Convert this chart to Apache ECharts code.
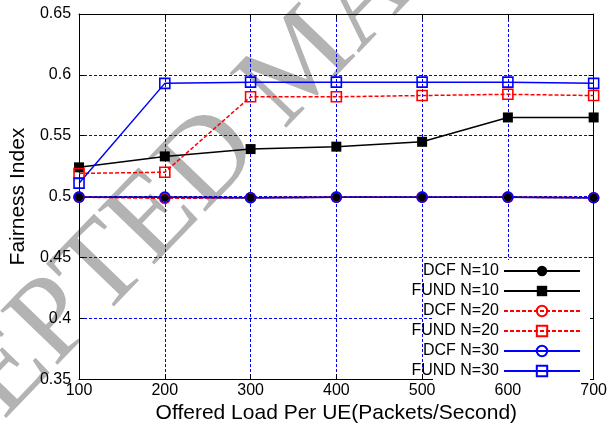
<!DOCTYPE html>
<html>
<head>
<meta charset="utf-8">
<script src="https://cdn.jsdelivr.net/npm/echarts@6/dist/echarts.min.js"></script>
<style>
  html, body { margin: 0; padding: 0; background: #fff; }
  #chart { width: 610px; height: 429px; }
</style>
</head>
<body>
<div id="chart"></div>
<script>
// Offered load per UE (packets/second)
const loads = [100, 200, 300, 400, 500, 600, 700];

// Fairness index per scheme and number of UEs
const dcfN10  = [0.4995, 0.4995, 0.4990, 0.4995, 0.4995, 0.4995, 0.4990];
const fundN10 = [0.524, 0.533, 0.539, 0.541, 0.545, 0.565, 0.565];
const dcfN20  = [0.4995, 0.4985, 0.4990, 0.4995, 0.4995, 0.4995, 0.4990];
const fundN20 = [0.519, 0.520, 0.582, 0.582, 0.583, 0.584, 0.583];
const dcfN30  = [0.4995, 0.4995, 0.4990, 0.4995, 0.4995, 0.4995, 0.4990];
const fundN30 = [0.511, 0.593, 0.594, 0.594, 0.594, 0.594, 0.593];

const yTicks = [0.35, 0.4, 0.45, 0.5, 0.55, 0.6, 0.65];

const FONT = '"Liberation Sans", Arial, Helvetica, sans-serif';
const BLUE = '#0000ff';
const RED = '#ff0000';
const BLACK = '#000000';

function pairs(ys) { return loads.map((x, i) => [x, ys[i]]); }

function lineSeries(name, ys, color, symbol, filled, dashed, size) {
  return {
    name: name,
    type: 'line',
    data: pairs(ys),
    symbol: symbol,
    symbolSize: size,
    showSymbol: true,
    animation: false,
    lineStyle: { color: color, width: 1.5, type: dashed ? [4, 2] : 'solid' },
    itemStyle: filled
      ? { color: color, borderColor: color, borderWidth: 0 }
      : { color: 'rgba(0,0,0,0)', borderColor: color, borderWidth: 1.6 },
    emphasis: { disabled: true }
  };
}

const chart = echarts.init(document.getElementById('chart'), null, { renderer: 'canvas' });

const gridLeft = 76, gridRight = 15, gridTop = 14, gridBottom = 43;

chart.setOption({
  animation: false,
  backgroundColor: '#ffffff',
  textStyle: { fontFamily: FONT },
  grid: { left: gridLeft, right: gridRight, top: gridTop, bottom: gridBottom, containLabel: false },
  graphic: [
    {
      type: 'text',
      id: 'stamp',
      z: -10,
      silent: true,
      x: 304, y: 64,
      rotation: Math.PI * 46 / 180,
      style: {
        text: 'ACCEPTED MANUSCRIPT',
        font: '120px "Liberation Serif", "Times New Roman", serif',
        fill: '#b3b3b3',
        align: 'center',
        verticalAlign: 'middle'
      }
    },
    {
      type: 'rect',
      id: 'legendBox',
      z: 1,
      silent: true,
      shape: { x: 433, y: 260, width: 157, height: 120 },
      style: { fill: '#ffffff' }
    }
  ],
  xAxis: [
    {
      type: 'value',
      min: 100, max: 700, interval: 100,
      name: 'Offered Load Per UE(Packets/Second)',
      nameLocation: 'middle',
      nameGap: 19,
      nameTextStyle: { fontSize: 21, color: BLACK, fontFamily: FONT },
      axisLine: { show: true, lineStyle: { color: BLACK, width: 1 } },
      axisTick: { show: true, inside: true, length: 5, lineStyle: { color: BLACK } },
      axisLabel: { fontSize: 16, color: BLACK, margin: 3, fontFamily: FONT },
      splitLine: { show: true, lineStyle: { color: BLUE, width: 1, type: [3, 2] } }
    },
    {
      type: 'value',
      position: 'top',
      min: 100, max: 700, interval: 100,
      axisLine: { show: true, lineStyle: { color: BLACK, width: 1 } },
      axisTick: { show: true, inside: true, length: 5, lineStyle: { color: BLACK } },
      axisLabel: { show: false },
      splitLine: { show: false }
    }
  ],
  yAxis: [
    {
      type: 'value',
      min: 0.35, max: 0.65, interval: 0.05,
      name: 'Fairness Index',
      nameLocation: 'middle',
      nameGap: 46,
      nameTextStyle: { fontSize: 21, color: BLACK, fontFamily: FONT },
      axisLine: { show: true, lineStyle: { color: BLACK, width: 1 } },
      axisTick: { show: true, inside: true, length: 5, lineStyle: { color: BLACK } },
      axisLabel: {
        fontSize: 16, color: BLACK, margin: 8, fontFamily: FONT,
        formatter: v => String(+v.toFixed(2))
      },
      splitLine: { show: true, lineStyle: { color: BLUE, width: 1, type: [3, 2] } }
    },
    {
      type: 'value',
      position: 'right',
      min: 0.35, max: 0.65, interval: 0.05,
      axisLine: { show: true, lineStyle: { color: BLACK, width: 1 } },
      axisTick: { show: true, inside: true, length: 5, lineStyle: { color: BLACK } },
      axisLabel: { show: false },
      splitLine: { show: false }
    }
  ],
  legend: {
    orient: 'vertical',
    align: 'right',
    right: 29,
    top: 261,
    padding: 0,
    itemGap: 0,
    itemWidth: 76,
    itemHeight: 13,
    selectedMode: false,
    textStyle: { fontSize: 16, color: BLACK, lineHeight: 20, fontFamily: FONT },
    data: ['DCF N=10', 'FUND N=10', 'DCF N=20', 'FUND N=20', 'DCF N=30', 'FUND N=30']
  },
  series: [
    lineSeries('DCF N=10', dcfN10, BLACK, 'circle', true, false, 9),
    lineSeries('FUND N=10', fundN10, BLACK, 'rect', true, false, 10),
    lineSeries('DCF N=20', dcfN20, RED, 'circle', false, true, 10),
    lineSeries('FUND N=20', fundN20, RED, 'rect', false, true, 10),
    lineSeries('DCF N=30', dcfN30, BLUE, 'circle', false, false, 10),
    lineSeries('FUND N=30', fundN30, BLUE, 'rect', false, false, 10)
  ]
});
</script>
</body>
</html>
